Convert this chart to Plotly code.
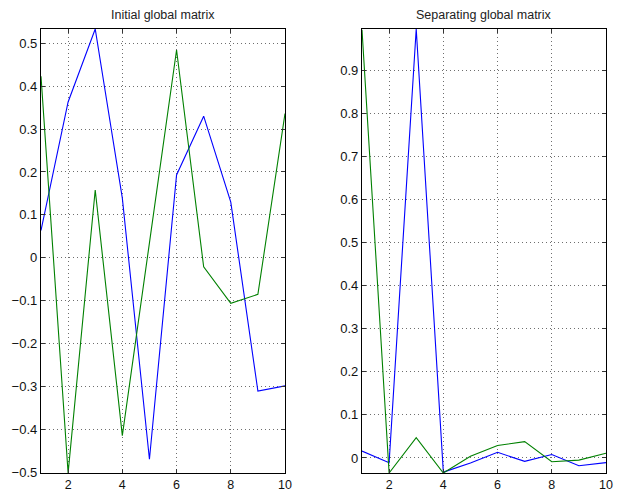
import plotly.graph_objects as go

x = [1, 2, 3, 4, 5, 6, 7, 8, 9, 10]

init_blue = [0.064, 0.363, 0.533, 0.139, -0.469, 0.193, 0.330, 0.130, -0.310, -0.298]
init_green = [0.423, -0.501, 0.158, -0.414, 0.035, 0.484, -0.021, -0.106, -0.085, 0.336]

sep_blue = [0.016, -0.011, 0.997, -0.033, -0.012, 0.013, -0.008, 0.008, -0.018, -0.011]
sep_green = [0.995, -0.035, 0.047, -0.035, 0.004, 0.029, 0.038, -0.009, -0.005, 0.011]

titles = ["Initial global matrix", "Separating global matrix"]
x_ticks = [2, 4, 6, 8, 10]
left_yticks = [-0.5, -0.4, -0.3, -0.2, -0.1, 0, 0.1, 0.2, 0.3, 0.4, 0.5]
right_yticks = [0, 0.1, 0.2, 0.3, 0.4, 0.5, 0.6, 0.7, 0.8, 0.9]

W, H = 617, 491
fig = go.Figure()

BLUE = "rgb(0,0,255)"
GREEN = "rgb(0,128,0)"

fig.add_trace(go.Scatter(x=x, y=init_blue, mode="lines", line=dict(color=BLUE, width=1.1), xaxis="x", yaxis="y"))
fig.add_trace(go.Scatter(x=x, y=init_green, mode="lines", line=dict(color=GREEN, width=1.1), xaxis="x", yaxis="y"))
fig.add_trace(go.Scatter(x=x, y=sep_blue, mode="lines", line=dict(color=BLUE, width=1.1), xaxis="x2", yaxis="y2"))
fig.add_trace(go.Scatter(x=x, y=sep_green, mode="lines", line=dict(color=GREEN, width=1.1), xaxis="x2", yaxis="y2"))

font = dict(family="Liberation Sans, Arial, sans-serif", size=13, color="#111")
xfont = dict(family="Liberation Sans, Arial, sans-serif", size=12.5, color="#111")

axcommon = dict(
    showline=True, linecolor="black", linewidth=1.3, mirror="ticks",
    ticks="inside", ticklen=4, tickcolor="#333", tickwidth=1,
    showgrid=True, gridcolor="rgb(110,110,110)", griddash="1px,3px", gridwidth=1,
    zeroline=False, automargin=False,
)

mt, mb = 29, 18
fig.update_layout(
    width=W, height=H,
    margin=dict(l=0, r=0, t=mt, b=mb),
    paper_bgcolor="white", plot_bgcolor="white",
    showlegend=False,
    xaxis=dict(domain=[41 / W, 285 / W], range=[1, 10], tickvals=x_ticks, anchor="y",
               tickfont=xfont, ticklabelstandoff=0, **axcommon),
    yaxis=dict(domain=[0, 1], range=[min(init_green + init_blue), max(init_blue + init_green)],
               tickvals=left_yticks, anchor="x", tickfont=font, **axcommon),
    xaxis2=dict(domain=[362 / W, 606 / W], range=[1, 10], tickvals=x_ticks, anchor="y2",
                tickfont=xfont, ticklabelstandoff=0, **axcommon),
    yaxis2=dict(domain=[0, 1], range=[min(sep_green + sep_blue), max(sep_blue + sep_green)],
                tickvals=right_yticks, anchor="x2", tickfont=font, **axcommon),
)

domains = [(41 / W, 285 / W), (362 / W, 606 / W)]
for t, (d0, d1) in zip(titles, domains):
    fig.add_annotation(
        text=t, x=(d0 + d1) / 2, y=1, xref="paper", yref="paper",
        xanchor="center", yanchor="bottom", yshift=5, showarrow=False,
        font=dict(family="Liberation Sans, Arial, sans-serif", size=12.5, color="#222"),
    )

fig.write_html("out.html")
